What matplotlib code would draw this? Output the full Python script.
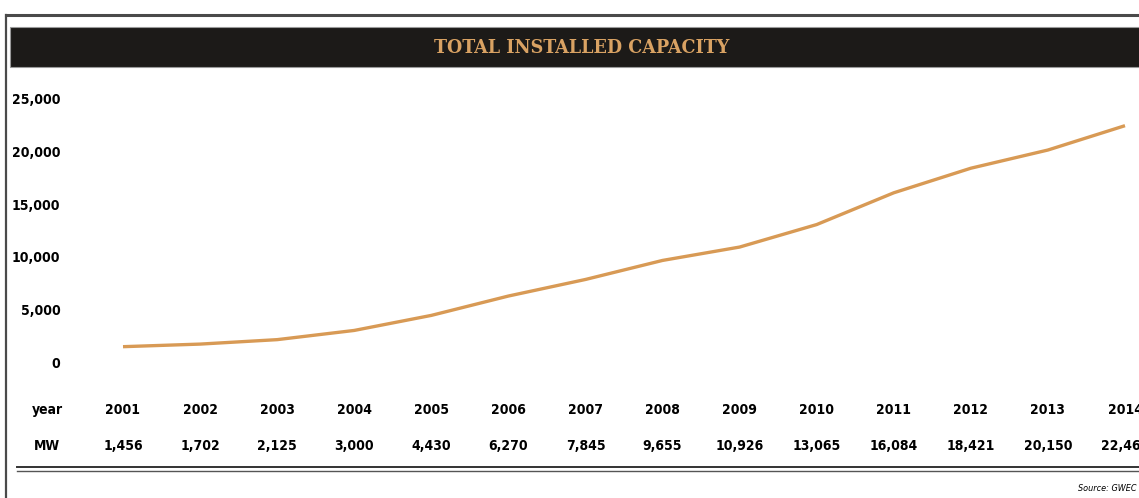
import matplotlib
matplotlib.use("Agg")
import matplotlib.pyplot as plt
from matplotlib.lines import Line2D
from matplotlib.patches import Rectangle
from matplotlib.transforms import blended_transform_factory

# data
years = [2001, 2002, 2003, 2004, 2005, 2006, 2007, 2008, 2009, 2010, 2011, 2012, 2013, 2014]
mw = [1456, 1702, 2125, 3000, 4430, 6270, 7845, 9655, 10926, 13065, 16084, 18421, 20150, 22465]
yticks = [0, 5000, 10000, 15000, 20000, 25000]

W, H = 1139, 498
gold = '#d9a263'
line_col = '#d89a55'
lab = dict(family='DejaVu Sans', fontstretch='condensed', fontweight='bold')

fig = plt.figure(figsize=(W / 100, H / 100), dpi=100)

def fx(px):
    return px / W

def fy(py):
    return 1 - py / H

# frame and title band
fig.add_artist(Line2D([fx(6), 1], [fy(15), fy(15)], color='#4a4a4a', lw=2.2))
fig.add_artist(Line2D([fx(6), fx(6)], [fy(15), 0], color='#4a4a4a', lw=1.6))
fig.add_artist(Rectangle((fx(10), fy(67)), 1, fy(27) - fy(67),
                         facecolor='#1c1a18', edgecolor='#9a9a9a', lw=0.8))
fig.text(fx(582), fy(48), 'TOTAL INSTALLED CAPACITY', family='DejaVu Serif',
         fontstretch='condensed', fontweight='bold', color=gold, fontsize=14,
         ha='center', va='center')

# plot area
ax = fig.add_axes([fx(80), fy(375), fx(W - 80), fy(80) - fy(375)])
x0 = 2001 - (123 - 80) / 77.08
x1 = 2014 + (W - 1125) / 77.08
ax.set_xlim(x0, x1)
ax.set_ylim(-13 * 5000 / 52.6, (362 - 80) * 5000 / 52.6)
ax.plot(years, mw, color=line_col, lw=2.4, solid_capstyle='butt')
for s in ax.spines.values():
    s.set_visible(False)
ax.set_xticks([])
ax.set_yticks(yticks)
ax.set_yticklabels([f'{v:,}' for v in yticks], fontsize=10, **lab)
ax.tick_params(axis='y', length=0, pad=14)
ax.patch.set_alpha(0)

# table rows under the chart
tr = blended_transform_factory(ax.transData, fig.transFigure)
fig.text(fx(47), fy(410), 'year', fontsize=10, ha='center', va='center', **lab)
fig.text(fx(47), fy(446), 'MW', fontsize=10, ha='center', va='center', **lab)
for yr, v in zip(years, mw):
    fig.text(yr, fy(410), str(yr), transform=tr, fontsize=10,
             ha='center', va='center', **lab)
    fig.text(yr, fy(446), f'{v:,}', transform=tr, fontsize=10,
             ha='center', va='center', **lab)

fig.add_artist(Line2D([fx(17), 1], [fy(467), fy(467)], color='#333333', lw=1.4))
fig.add_artist(Line2D([fx(17), 1], [fy(471), fy(471)], color='#555555', lw=1.0))

fig.text(fx(1136), fy(488), 'Source: GWEC', family='DejaVu Sans', fontstretch='condensed',
         fontstyle='italic', fontsize=6.5, ha='right', va='center')

fig.savefig('out.png', dpi=100)
